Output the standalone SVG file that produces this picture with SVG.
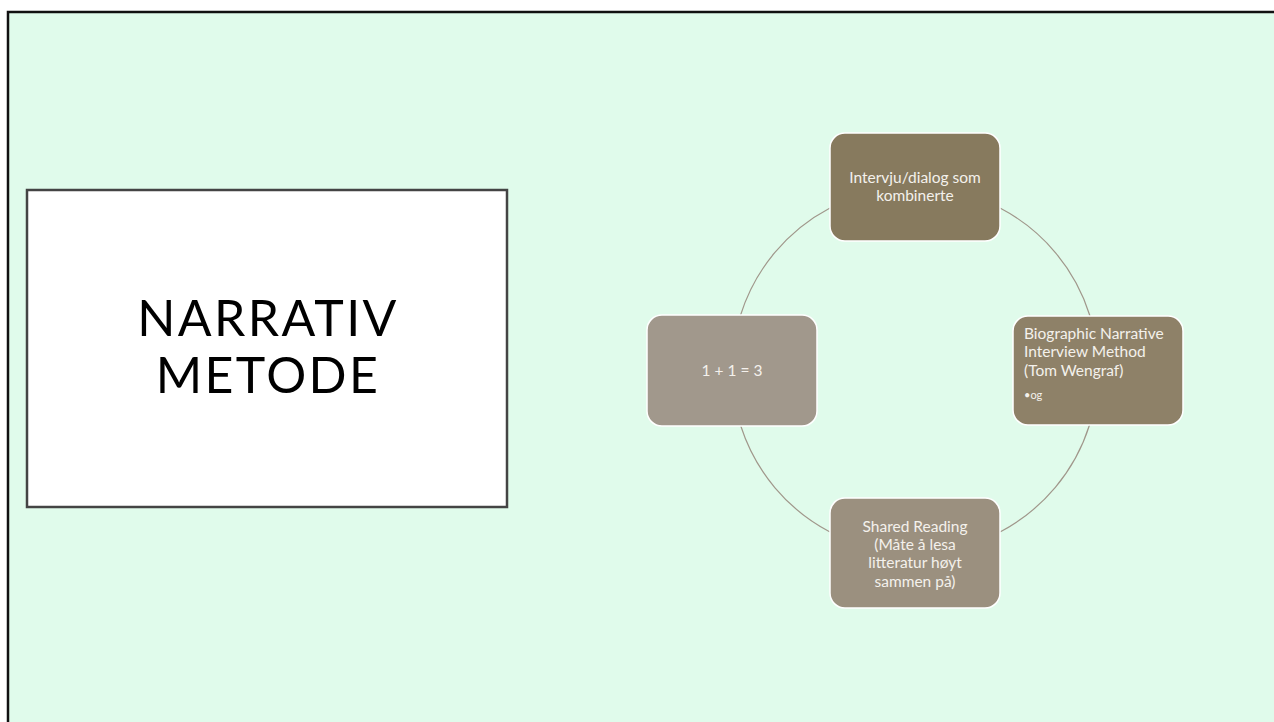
<svg xmlns="http://www.w3.org/2000/svg" width="1274" height="722" viewBox="0 0 1274 722">
<style>
.node rect{stroke:#ffffff;stroke-width:1.5}
.lbl{font-family:Lato,"Liberation Sans",sans-serif;font-size:15.5px;fill:#f4f1ec}
.conn path{fill:none;stroke:#a0978b;stroke-width:1.2}
.title{font-family:Lato,"Liberation Sans",sans-serif;font-size:50px;fill:#000000;text-anchor:middle;letter-spacing:2.4px}
</style>
<rect x="0" y="0" width="1274" height="722" fill="#ffffff"/>
<rect x="8" y="12" width="1280" height="720" fill="#e0fbeb" stroke="#111111" stroke-width="2.5"/>
<g id="title-box">
<rect x="27" y="190" width="480" height="317" fill="#ffffff" stroke="#444444" stroke-width="2.5"/>
<text class="title" x="268" y="336">NARRATIV</text>
<text class="title" x="268" y="393">METODE</text>
</g>
<g class="conn" id="connectors">
<path d="M1000,208 A183,183 0 0,1 1090,316"/>
<path d="M1089.5,425 A183,183 0 0,1 1000,532"/>
<path d="M830,532 A183,183 0 0,1 740.8,426"/>
<path d="M740.6,315 A183,183 0 0,1 830,208"/>
</g>
<g class="node" id="node-top">
<rect x="830" y="133" width="170" height="108" rx="15" fill="#877a5e"/>
<text class="lbl" text-anchor="middle" x="915" y="183">Intervju/dialog som</text>
<text class="lbl" text-anchor="middle" x="915" y="201">kombinerte</text>
</g>
<g class="node" id="node-right">
<rect x="1013" y="316" width="170" height="109" rx="15" fill="#8e8168"/>
<text class="lbl" x="1024" y="339">Biographic Narrative</text>
<text class="lbl" x="1024" y="357">Interview Method</text>
<text class="lbl" x="1024" y="376">(Tom Wengraf)</text>
<text class="lbl" x="1024" y="399" style="font-size:11px">•og</text>
</g>
<g class="node" id="node-bottom">
<rect x="830" y="498" width="170" height="110" rx="15" fill="#9b907f"/>
<text class="lbl" text-anchor="middle" x="915" y="532">Shared Reading</text>
<text class="lbl" text-anchor="middle" x="915" y="550">(Måte å lesa</text>
<text class="lbl" text-anchor="middle" x="915" y="568">litteratur høyt</text>
<text class="lbl" text-anchor="middle" x="915" y="587">sammen på)</text>
</g>
<g class="node" id="node-left">
<rect x="647" y="315" width="170" height="111" rx="15" fill="#a1988c"/>
<text class="lbl" text-anchor="middle" x="732" y="376">1 + 1 = 3</text>
</g>
</svg>
